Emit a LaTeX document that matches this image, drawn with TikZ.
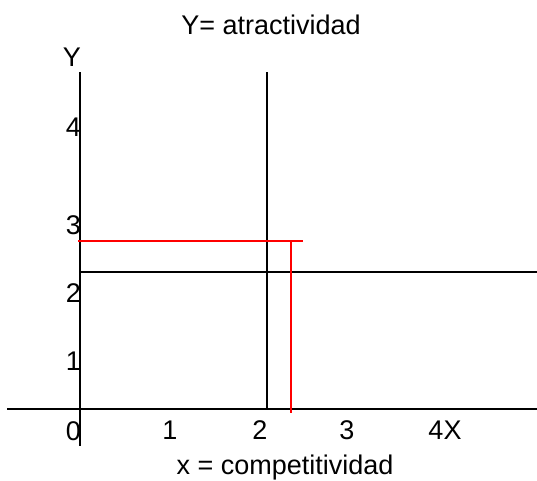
\documentclass[tikz,border=0pt]{standalone}
\usepackage{fontspec}
\setmainfont{Liberation Sans}
\usetikzlibrary{positioning}
\tikzset{ax/.style={line width=2pt,black},rd/.style={line width=2pt,red},
 lbl/.style={inner sep=0pt,anchor=base,font=\fontsize{27}{32}\selectfont},
 ylbl/.style={lbl,anchor=base east}}

\begin{document}
\begin{tikzpicture}[x=1pt,y=-1pt]
\useasboundingbox (0,0) rectangle (537,480);
\coordinate (ytop) at (80,72);\coordinate (ybot) at (80,446);
\coordinate (xl) at (7,409);\coordinate (xr) at (537,409);
\coordinate (vtop) at (267,72);\coordinate (vbot) at (267,409);
\coordinate (hl) at (80,272);\coordinate (hr) at (537,272);
\coordinate (rl) at (78,241);\coordinate (rr) at (303,241);
\coordinate (rt) at (291,240);\coordinate (rb) at (291,413);
% axes and split lines
\draw[ax](ytop)--(ybot);\draw[ax](xl)--(xr);
\draw[ax](vtop)--(vbot);\draw[ax](hl)--(hr);
\draw[rd](rl)--(rr);\draw[rd](rt)--(rb);
% titles
\node[lbl](ttl) at (271,34){Y= atractividad};
\node[lbl](xttl) at (285,474){x = competitividad};
\node[lbl](ynm) at (72,66){Y};
% y ticks
\node[ylbl](y4) at (81,136){4};\node[ylbl](y3) at (81,234){3};
\node[ylbl](y2) at (81,302){2};\node[ylbl](y1) at (81,370){1};
\node[ylbl](y0) at (81,440){0};
% x ticks
\node[lbl](x1) at (170,439){1};\node[lbl](x2) at (260,439){2};
\node[lbl](x3) at (347,439){3};\node[lbl](x4) at (445,439){4X};
\end{tikzpicture}
\end{document}
